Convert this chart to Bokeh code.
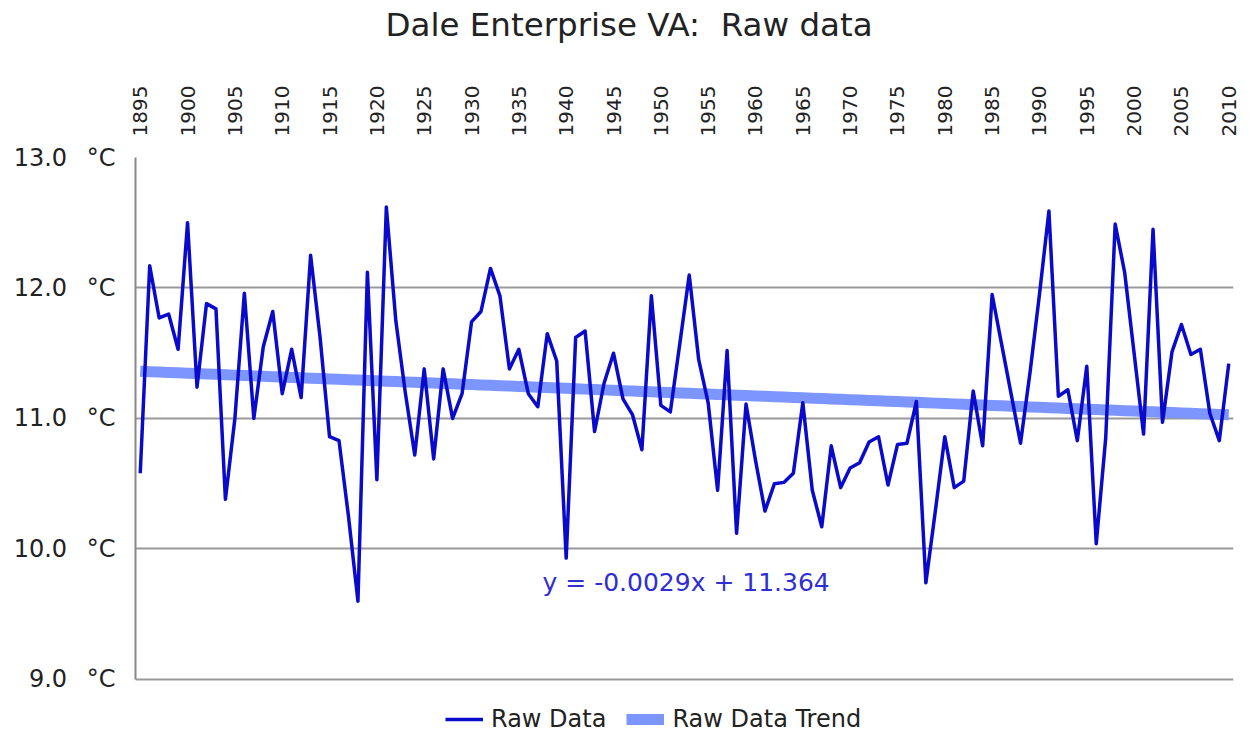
import math
from bokeh.plotting import figure
from bokeh.models import (ColumnDataSource, FixedTicker, Legend, LegendItem,
                          Label, PrintfTickFormatter, Range1d)
from bokeh.embed import file_html
from bokeh.resources import INLINE

# ---- data ----
years = list(range(1895, 2011))
raw_temps = [
    10.58, 12.17, 11.77, 11.80, 11.53, 12.50, 11.24, 11.88, 11.84, 10.38,
    11.00, 11.96, 11.00, 11.55, 11.82, 11.19, 11.53, 11.16, 12.25, 11.62,
    10.86, 10.83, 10.25, 9.60, 12.12, 10.53, 12.62, 11.75, 11.20, 10.72,
    11.38, 10.69, 11.38, 11.00, 11.19, 11.74, 11.82, 12.15, 11.94, 11.38,
    11.53, 11.19, 11.09, 11.65, 11.44, 9.93, 11.62, 11.67, 10.90, 11.27,
    11.50, 11.15, 11.03, 10.76, 11.94, 11.10, 11.05, 11.57, 12.10, 11.45,
    11.12, 10.45, 11.52, 10.12, 11.11, 10.68, 10.29, 10.50, 10.51, 10.58,
    11.12, 10.45, 10.17, 10.79, 10.47, 10.62, 10.66, 10.82, 10.86, 10.49,
    10.80, 10.81, 11.13, 9.74, 10.29, 10.86, 10.47, 10.52, 11.21, 10.79,
    11.95, 11.57, 11.19, 10.81, 11.35, 11.95, 12.59, 11.17, 11.22, 10.83,
    11.40, 10.04, 10.85, 12.49, 12.12, 11.50, 10.88, 12.45, 10.97, 11.51,
    11.72, 11.49, 11.53, 11.04, 10.83, 11.42,
]
trend_slope = -0.0029
trend_intercept = 11.364
trend_vals = [trend_intercept + trend_slope * (i + 1) for i in range(len(years))]
year_ticks = list(range(1895, 2011, 5))
temp_ticks = [9, 10, 11, 12, 13]
title_text = "Dale Enterprise VA:\u00a0 Raw data"
equation_text = "y = -0.0029x + 11.364"

FONT = "DejaVu Sans"
TXT = "#222222"

src = ColumnDataSource(dict(year=years, raw=raw_temps, trend=trend_vals))

p = figure(width=1242, height=733, output_backend="svg", toolbar_location=None,
           x_axis_location="above",
           x_range=Range1d(years[0] - 0.5, years[-1] + 0.5),
           y_range=Range1d(8.5854, 13),
           min_border_left=135, min_border_right=9,
           min_border_top=0, min_border_bottom=0)
p.outline_line_color = None
p.background_fill_color = "white"

p.title.text = title_text
p.title.align = "left"
p.title.offset = 250
p.title.text_font = FONT
p.title.text_font_size = "32.5px"
p.title.text_font_style = "normal"
p.title.text_color = TXT
p.title.standoff = 6

# x axis (top)
xa = p.xaxis[0]
xa.ticker = FixedTicker(ticks=year_ticks)
xa.major_label_orientation = math.pi / 2
xa.major_label_text_font = FONT
xa.major_label_text_font_size = "20px"
xa.major_label_text_color = TXT
xa.major_label_standoff = 21
xa.axis_label = "\u00a0"
xa.axis_label_text_font_size = "4px"
xa.axis_label_standoff = 28
xa.axis_line_color = None
xa.major_tick_out = 0
xa.major_tick_in = 0
xa.major_tick_line_color = None
xa.minor_tick_line_color = None

# y axis
ya = p.yaxis[0]
ya.ticker = FixedTicker(ticks=temp_ticks)
ya.bounds = (9, 13)
ya.formatter = PrintfTickFormatter(format="%.1f\u00a0\u2002°C")
ya.major_label_text_font = FONT
ya.major_label_text_font_size = "24px"
ya.major_label_text_color = TXT
ya.major_label_standoff = 20
ya.axis_line_color = "#888888"
ya.axis_line_width = 2
ya.major_tick_out = 0
ya.major_tick_in = 0
ya.major_tick_line_color = None
ya.minor_tick_line_color = None

p.xgrid.grid_line_color = None
p.ygrid.ticker = FixedTicker(ticks=temp_ticks)
p.ygrid.grid_line_color = "#999999"
p.ygrid.grid_line_width = 2

trend_r = p.line("year", "trend", source=src, line_color="#7D95FF",
                 line_width=11, line_alpha=1.0)
raw_r = p.line("year", "raw", source=src, line_color="#0A0ACC",
               line_width=3.5, line_join="round")

eq = Label(x=1937.5, y=9.745, text=equation_text, text_font=FONT,
           text_font_size="25px", text_color="#2E2ED2",
           text_baseline="middle", text_align="left")
p.add_layout(eq)

legend = Legend(items=[LegendItem(label="Raw Data", renderers=[raw_r]),
                       LegendItem(label="Raw Data Trend", renderers=[trend_r])],
                orientation="horizontal", location=(310, 0))
legend.label_text_font = FONT
legend.label_text_font_size = "24px"
legend.label_text_color = TXT
legend.glyph_width = 38
legend.label_standoff = 8
legend.spacing = 20
legend.border_line_color = None
legend.background_fill_alpha = 0
legend.padding = 0
legend.margin = 0
p.add_layout(legend, "center")

open("out.html", "w").write(file_html(p, INLINE))
